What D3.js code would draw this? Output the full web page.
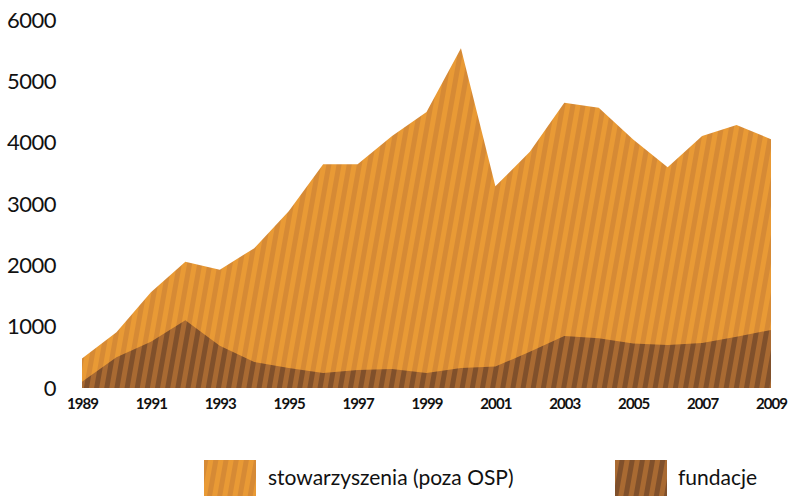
<!DOCTYPE html>
<html><head><meta charset="utf-8">
<script src="https://cdn.jsdelivr.net/npm/d3@7"></script>
<style>body{margin:0;background:#fff}svg{display:block}</style>
</head><body>
<svg id="c" width="799" height="496"></svg>
<script>
const years = d3.range(1989, 2010);
const stowarzyszenia = [480, 910, 1560, 2060, 1930, 2280, 2880, 3650, 3650, 4110, 4500, 5540, 3290, 3850, 4650, 4570, 4050, 3600, 4110, 4290, 4055];
const fundacje = [100, 500, 755, 1105, 690, 425, 325, 245, 295, 310, 245, 325, 350, 590, 848, 810, 725, 700, 735, 835, 946];
const yTicks = [0, 1000, 2000, 3000, 4000, 5000, 6000];
const xTicks = [1989, 1991, 1993, 1995, 1997, 1999, 2001, 2003, 2005, 2007, 2009];
const seriesNames = ["stowarzyszenia (poza OSP)", "fundacje"];

const svg = d3.select("#c");
const x = d3.scaleLinear().domain([1989, 2009]).range([82, 771]);
const y = d3.scaleLinear().domain([0, 6000]).range([388, 20]);

const defs = svg.append("defs");
function stripe(id, c1, c2) {
  const p = defs.append("pattern").attr("id", id).attr("patternUnits", "userSpaceOnUse")
    .attr("width", 10).attr("height", 10).attr("patternTransform", "rotate(10)");
  p.append("rect").attr("width", 10).attr("height", 10).attr("fill", c1);
  p.append("rect").attr("width", 5).attr("height", 10).attr("fill", c2);
}
stripe("pOrange", "#E99A35", "#D68A35");
stripe("pBrown", "#A96A32", "#80502B");

const area = vals => d3.area().x((d, i) => x(years[i])).y0(y(0)).y1(d => y(d))(vals);
svg.append("path").attr("d", area(stowarzyszenia)).attr("fill", "url(#pOrange)");
svg.append("path").attr("d", area(fundacje)).attr("fill", "url(#pBrown)");

const font = "Lato, 'DejaVu Sans', sans-serif";
const yAxis = svg.append("g").attr("transform", "translate(56,0)")
  .call(d3.axisLeft(y).tickValues(yTicks).tickSize(0).tickPadding(0).tickFormat(d3.format("d")));
yAxis.select(".domain").remove();
yAxis.selectAll("text").attr("font-family", font).attr("font-size", 22).attr("fill", "#111").attr("letter-spacing", -0.5);

const xAxis = svg.append("g").attr("transform", "translate(0,398)")
  .call(d3.axisBottom(x).tickValues(xTicks).tickSize(0).tickPadding(0).tickFormat(d3.format("d")));
xAxis.select(".domain").remove();
xAxis.selectAll("text").attr("font-family", font).attr("font-size", 15).attr("font-weight", 700)
  .attr("fill", "#111").attr("letter-spacing", -0.9);

const leg = [{name: seriesNames[0], fill: "url(#pOrange)", x: 204, tx: 268},
             {name: seriesNames[1], fill: "url(#pBrown)", x: 615, tx: 678}];
leg.forEach(l => {
  svg.append("rect").attr("x", l.x).attr("y", 460).attr("width", 52).attr("height", 36).attr("fill", l.fill);
  svg.append("text").attr("x", l.tx).attr("y", 485).text(l.name)
    .attr("font-family", font).attr("font-size", 21).attr("fill", "#111");
});
</script>
</body></html>
